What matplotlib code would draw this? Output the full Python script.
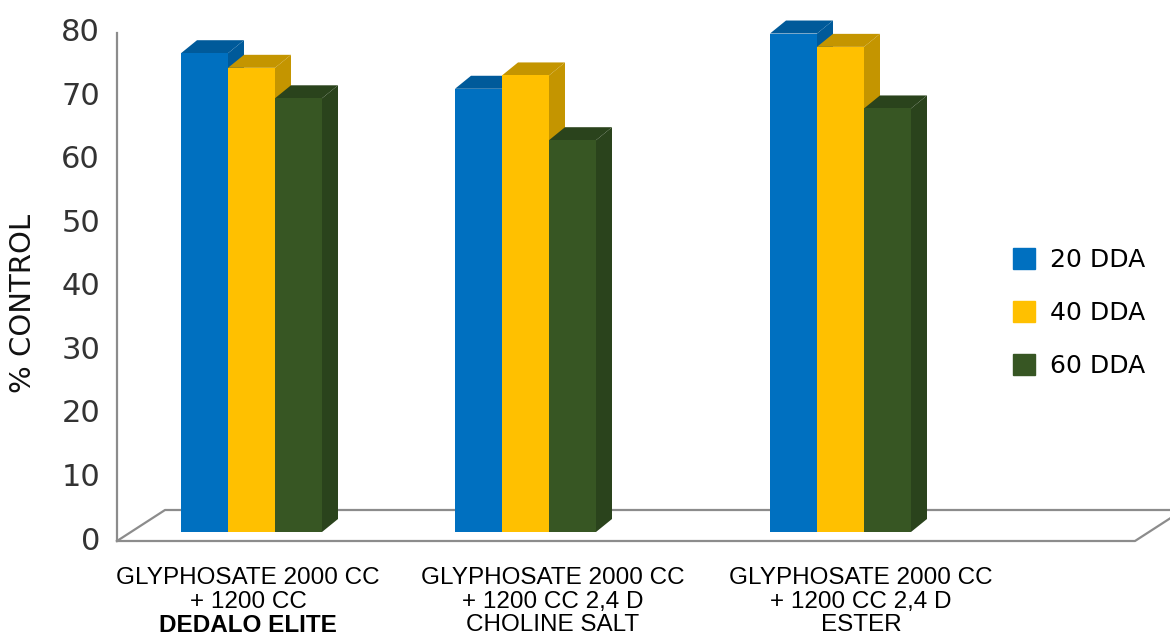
import matplotlib.pyplot as plt
from matplotlib.patches import Polygon, Patch

# Data
series = ["20 DDA", "40 DDA", "60 DDA"]
line1 = ["GLYPHOSATE 2000 CC", "GLYPHOSATE 2000 CC", "GLYPHOSATE 2000 CC"]
line2 = ["+ 1200 CC", "+ 1200 CC 2,4 D", "+ 1200 CC 2,4 D"]
line3 = ["DEDALO ELITE", "CHOLINE SALT", "ESTER"]
dda20 = [75.4, 69.8, 78.5]
dda40 = [73.1, 71.9, 76.4]
dda60 = [68.3, 61.7, 66.7]
yticks = [0, 10, 20, 30, 40, 50, 60, 70, 80]

front = ["#0070C0", "#FFC000", "#375623"]
shade = ["#005A9A", "#C49500", "#2A431C"]

# layout (x in pixels, y in value units)
px = 6.35                      # pixels per unit
group_left = [181, 455, 770]
label_x = [248, 553, 861]
bw = 47
ddx, ddy = 16, 13 / px         # bar depth
base = 9 / px                  # bars sit a bit behind the floor front edge
fdx, fdy = 48, 31 / px         # floor depth

fig = plt.figure(figsize=(11.7, 6.36), dpi=100)
ax = fig.add_axes([0, 0, 1, 1])
ax.set_xlim(0, 1170)
ax.set_ylim(-95 / px, 541 / px)
ax.axis("off")

# floor and axis
gray = "#8c8c8c"
ax.plot([117, 1135, 1135 + fdx], [0, 0, fdy], color=gray, lw=1.6, zorder=1)
ax.plot([117, 117 + fdx, 1135 + fdx], [0, fdy, fdy], color=gray, lw=1.6, zorder=1)
ax.plot([117, 117], [0, 80], color=gray, lw=1.6, zorder=1)

# bars
data = [dda20, dda40, dda60]
for g in range(3):
    for s in range(3):
        v = data[s][g]
        x0 = group_left[g] + s * bw
        x1 = x0 + bw
        top = base + v
        ax.add_patch(Polygon([(x0, top), (x1, top), (x1 + ddx, top + ddy), (x0 + ddx, top + ddy)],
                             closed=True, fc=shade[s], ec="none", zorder=2))
        ax.add_patch(Polygon([(x1, base), (x1 + ddx, base + ddy), (x1 + ddx, top + ddy), (x1, top)],
                             closed=True, fc=shade[s], ec="none", zorder=2))
        ax.bar(x0, v, width=bw, bottom=base, align="edge", color=front[s], zorder=2,
               label=series[s] if g == 0 else None)

# y tick labels
for t in yticks:
    ax.text(100, t, str(t), ha="right", va="center", fontsize=22, color="#333333",
            family="DejaVu Sans")
ax.text(23, (541 - 303) / px, "% CONTROL", rotation=90, ha="center", va="center",
        fontsize=21, color="#111111", family="DejaVu Sans")

# category labels
for i in range(3):
    ax.text(label_x[i], (541 - 578) / px, line1[i], ha="center", va="center",
            fontsize=17.5, family="Liberation Sans", color="black")
    ax.text(label_x[i], (541 - 602) / px, line2[i], ha="center", va="center",
            fontsize=17.5, family="Liberation Sans", color="black")
    ax.text(label_x[i], (541 - 625) / px, line3[i], ha="center", va="center",
            fontsize=17.5, family="Liberation Sans", color="black",
            fontweight="bold" if i == 0 else "normal")

handles = [Patch(color=front[s], label=series[s]) for s in range(3)]
ax.legend(handles=handles, loc="center left", bbox_to_anchor=(990 / 1170, 1 - 313 / 636),
          frameon=False, fontsize=18, handlelength=0.9, handleheight=0.9,
          handletextpad=0.6, labelspacing=1.15)

fig.savefig("out.png", dpi=100)
